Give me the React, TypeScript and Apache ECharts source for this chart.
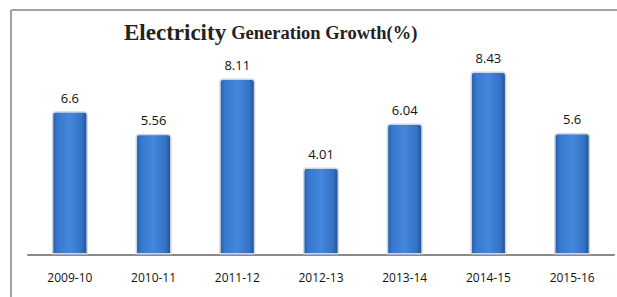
import React, { useEffect, useRef } from "react";
import * as echarts from "echarts";

const categories = ["2009-10", "2010-11", "2011-12", "2012-13", "2013-14", "2014-15", "2015-16"];
const growthValues = [6.6, 5.56, 8.11, 4.01, 6.04, 8.43, 5.6];
const titleMain = "Electricity";
const titleRest = "Generation Growth(%)";

export default function App() {
  const ref = useRef<HTMLDivElement>(null);
  useEffect(() => {
    if (!ref.current) return;
    const chart = echarts.init(ref.current, null, { renderer: "svg" });
    const barGradient = new echarts.graphic.LinearGradient(0, 0, 1, 0, [
      { offset: 0, color: "#2a5ca4" },
      { offset: 0.15, color: "#3879d0" },
      { offset: 0.5, color: "#4487dc" },
      { offset: 0.85, color: "#3471c4" },
      { offset: 1, color: "#234f8c" },
    ]);
    chart.setOption({
      animation: false,
      backgroundColor: "#ffffff",
      title: {
        text: `{a|${titleMain}} {b|${titleRest}}`,
        left: 119,
        top: 16,
        textStyle: {
          rich: {
            a: { fontFamily: "Liberation Serif", fontWeight: "bold", fontSize: 23, color: "#222" },
            b: { fontFamily: "Liberation Serif", fontWeight: "bold", fontSize: 18.5, color: "#222" },
          },
        },
      },
      grid: { left: 28, right: 3, top: 37.5, bottom: 42.5 },
      xAxis: {
        type: "category",
        data: categories,
        axisLine: { show: true, lineStyle: { color: "#8a8a8a", width: 2 } },
        axisTick: { show: false },
        axisLabel: {
          margin: 17,
          fontFamily: "Open Sans",
          fontSize: 12,
          color: "#111",
        },
      },
      yAxis: {
        type: "value",
        min: 0,
        max: 10,
        show: false,
        splitLine: { show: false },
      },
      series: [
        {
          type: "bar",
          data: growthValues,
          barWidth: 36,
          itemStyle: {
            color: barGradient,
            borderColor: "#cdd6e2",
            borderWidth: 1.5,
            borderRadius: [3, 3, 0, 0],
          },
          label: {
            show: true,
            position: "top",
            distance: 7,
            fontFamily: "Open Sans",
            fontSize: 13,
            color: "#111",
          },
        },
      ],
      graphic: [
        {
          type: "line",
          shape: { x1: 11, y1: 10, x2: 617, y2: 10 },
          style: { stroke: "#a0a0a0", lineWidth: 2 },
        },
        {
          type: "line",
          shape: { x1: 11, y1: 10, x2: 11, y2: 297 },
          style: { stroke: "#a0a0a0", lineWidth: 2 },
        },
      ],
    });
    return () => chart.dispose();
  }, []);
  return (
    <div
      ref={ref}
      style={{ position: "fixed", left: 0, top: 0, width: 617, height: 297 }}
    />
  );
}
